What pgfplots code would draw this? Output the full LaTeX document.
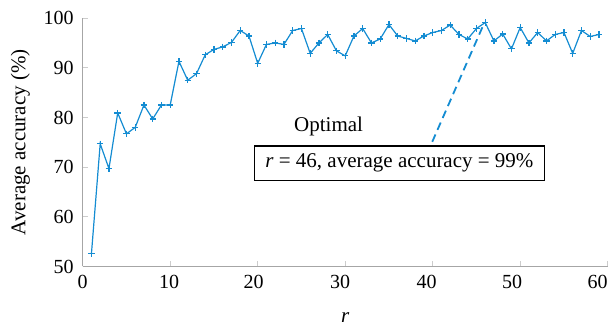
\documentclass[border=0pt]{standalone}
\usepackage{pgfplots}
\pgfplotsset{compat=1.18}
\usepackage{fontspec}
\setmainfont{Liberation Serif}
\definecolor{lineblue}{RGB}{20,140,210}
\begin{document}
\begin{tikzpicture}
\begin{axis}[
 scale only axis, width=262.5pt, height=124.2pt,
 xmin=0, xmax=60, ymin=50, ymax=100,
 axis x line*=bottom, axis y line*=left,
 axis line style={draw=gray!70, line width=0.5pt},
 xtick={0,10,...,60}, ytick={50,60,...,100},
 xticklabels={0,\hspace*{-1pt}10,\hspace*{-4pt}20,\hspace*{-5pt}30,\hspace*{-6pt}40,\hspace*{-8pt}50,\hspace*{-10pt}60},
 tick align=inside, major tick length=2.5pt,
 tick style={draw=gray!40, line width=0.4pt},
 tick label style={font=\fontsize{10}{12}\selectfont, black},
 yticklabel style={xshift=-1pt},
 xticklabel style={yshift=-1pt},
 /pgf/number format/assume math mode=true,
 xlabel={\textit{r}}, ylabel={Average accuracy (\%)},
 label style={font=\fontsize{10.5}{12}\selectfont},
 xlabel style={yshift=-5pt},
 clip=false,
]
\coordinate (O) at (rel axis cs:0,0);
\addplot[color=lineblue, line width=0.6pt, mark=+, mark size=1.6pt] coordinates {
(1,52.6) (2,74.7) (3,69.7) (4,80.9) (5,76.7) (6,78.0) (7,82.5) (8,79.7) (9,82.5) (10,82.5)
(11,91.3) (12,87.5) (13,88.8) (14,92.6) (15,93.7) (16,94.2) (17,95.1) (18,97.5) (19,96.4) (20,90.9)
(21,94.7) (22,95.0) (23,94.7) (24,97.5) (25,97.9) (26,92.9) (27,95.0) (28,96.7) (29,93.4) (30,92.4)
(31,96.4) (32,97.9) (33,95.0) (34,95.8) (35,98.7) (36,96.4) (37,95.9) (38,95.4) (39,96.4) (40,97.1)
(41,97.5) (42,98.6) (43,96.7) (44,95.8) (45,97.9) (46,99.1) (47,95.4) (48,96.8) (49,93.8) (50,98.1)
(51,95.0) (52,97.1) (53,95.4) (54,96.7) (55,97.1) (56,92.9) (57,97.5) (58,96.3) (59,96.7)
};
\draw[lineblue, line width=0.9pt, dash pattern=on 4pt off 2.5pt] (axis cs:39.95,75.1) -- (axis cs:45.7,98.25);
\node[draw=black, line width=0.6pt, fill=white, inner xsep=5.5pt, inner ysep=4pt, font=\fontsize{10.5}{12}\selectfont] at (axis cs:36.2,70.8) {\textit{r} = 46, average accuracy = 99\%};
\node[font=\fontsize{10.5}{12}\selectfont] at (axis cs:28.1,78.1) {Optimal};
\end{axis}
\pgfresetboundingbox
\path[use as bounding box] ([shift={(-41.35pt,-29.25pt)}]O) rectangle ([shift={(263.65pt,133.25pt)}]O);
\end{tikzpicture}
\end{document}
